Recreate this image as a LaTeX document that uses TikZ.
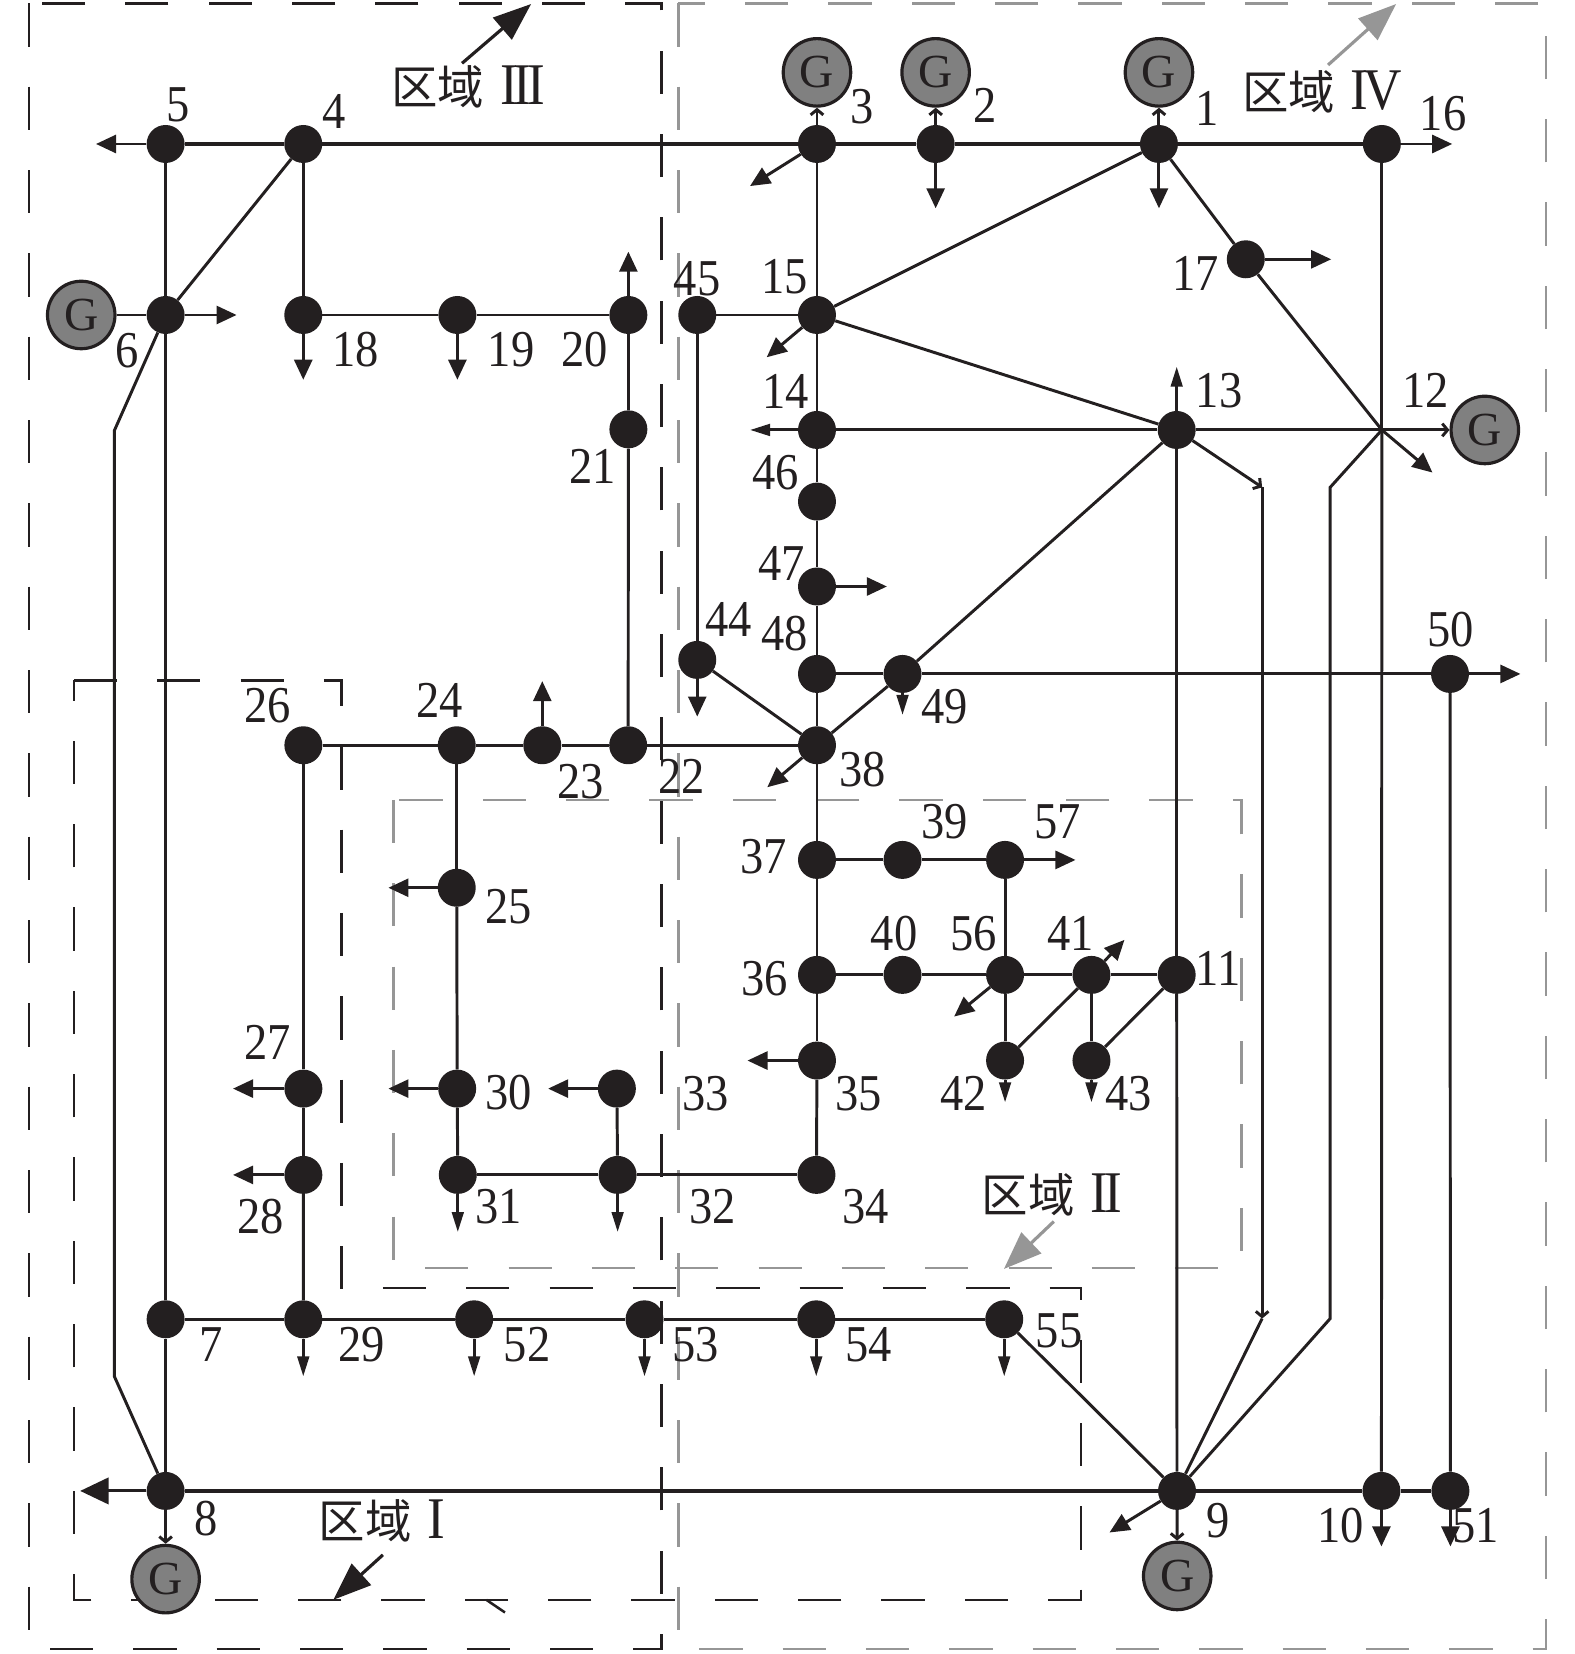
\documentclass[tikz,border=0pt]{standalone}
\usepackage{fontspec}
\setmainfont{Liberation Serif}
\newfontfamily\numfont[FakeStretch=0.9]{Liberation Serif}
\newfontfamily\cjk{Noto Sans CJK SC}
\usetikzlibrary{arrows.meta}
\definecolor{ink}{RGB}{35,31,32}
\definecolor{gfill}{RGB}{128,128,128}
\definecolor{rgray}{RGB}{150,150,150}
\newcommand{\romn}[1]{\hspace{15pt}{\numfont\fontsize{56}{56}\selectfont #1}}
\begin{document}
\begin{tikzpicture}[x=1pt,y=-1pt,
 bus/.style={circle,fill=ink,draw=none,minimum size=36pt,inner sep=0pt},
 gen/.style={circle,fill=gfill,draw=ink,line width=3pt,minimum size=64pt,inner sep=0pt,font=\fontsize{45}{45}\selectfont,text=ink},
 num/.style={font=\numfont\fontsize{49}{49}\selectfont,text=ink,inner sep=0pt},
 reg/.style={font=\cjk\fontsize{44}{44}\selectfont,text=ink,inner sep=0pt},
 ln/.style={draw=ink,line width=2.8pt},
 thk/.style={draw=ink,line width=3.5pt},
 load/.style={ln,-{Triangle[length=19pt,width=17pt]}},
 loadn/.style={ln,-{Triangle[length=19pt,width=11pt]}},
 loadb/.style={ln,-{Triangle[length=27pt,width=25pt]}},
 gar/.style={ln,-{Straight Barb[length=5pt,width=12pt]}},
 regar/.style={line width=3pt,-{Triangle[length=36pt,width=27pt]}},
 bdash/.style={draw=ink,line width=2.4pt,dash pattern=on 41pt off 38pt},
 gdash/.style={draw=rgray,line width=2.4pt,dash pattern=on 41pt off 38pt},
]
\useasboundingbox (0,0) rectangle (1493,1568);

% ---------- region boxes ----------
\draw[bdash] (27.5,3.2) rectangle (627,1563.3);
\draw[gdash] (643,3.2) rectangle (1465.5,1563.3);
\draw[bdash] (70,645) -- (323.5,645) -- (323.5,1221) -- (1025,1221) -- (1025,1516.6) -- (70,1516.6) -- cycle;
\draw[gdash] (372.8,758.3) rectangle (1177,1202);
\draw[draw=ink,line width=2.4pt] (461,1516.6) -- (478.7,1528.6);

% ---------- generators ----------
\node[gen] (g3) at (774.5,68.6) {G};
\node[gen] (g2) at (887,68.6) {G};
\node[gen] (g1) at (1098.7,68.6) {G};
\node[gen] (g6) at (77,298.6) {G};
\node[gen] (g12) at (1407.6,407.6) {G};
\node[gen] (g8) at (157,1497) {G};
\node[gen] (g9) at (1116,1494) {G};

% ---------- buses ----------
\node[bus] (b1) at (1098.7,136.5) {};
\node[bus] (b2) at (887,136.5) {};
\node[bus] (b3) at (774.5,136.5) {};
\node[bus] (b4) at (287.5,136.5) {};
\node[bus] (b5) at (157,136.5) {};
\node[bus] (b16) at (1310,136.5) {};
\node[bus] (b6) at (157,298.6) {};
\node[bus] (b18) at (287.5,298.6) {};
\node[bus] (b19) at (433.6,298.6) {};
\node[bus] (b20) at (595.7,298.6) {};
\node[bus] (b45) at (661,298.6) {};
\node[bus] (b15) at (774.5,298.6) {};
\node[bus] (b17) at (1181,245.8) {};
\node[bus] (b21) at (595.7,407) {};
\node[bus] (b14) at (774.5,407.6) {};
\node[bus] (b13) at (1115.5,407.6) {};
\coordinate (j12) at (1310,407.6);
\node[bus] (b46) at (774.5,475.5) {};
\node[bus] (b47) at (774.5,556) {};
\node[bus] (b44) at (661,625.6) {};
\node[bus] (b48) at (774.5,638.9) {};
\node[bus] (b49) at (855.6,638.9) {};
\node[bus] (b50) at (1374.6,638.9) {};
\node[bus] (b26) at (287.6,706.5) {};
\node[bus] (b24) at (433,706.5) {};
\node[bus] (b23) at (514.1,706.5) {};
\node[bus] (b22) at (595.5,706.5) {};
\node[bus] (b38) at (774.5,706.5) {};
\node[bus] (b37) at (774.5,815.2) {};
\node[bus] (b39) at (855.6,815.2) {};
\node[bus] (b57) at (952.8,815.2) {};
\node[bus] (b25) at (433,841.6) {};
\node[bus] (b36) at (774.5,924.2) {};
\node[bus] (b40) at (855.6,924.2) {};
\node[bus] (b56) at (952.8,924.2) {};
\node[bus] (b41) at (1034.7,924.2) {};
\node[bus] (b11) at (1115.5,924.2) {};
\node[bus] (b35) at (774.5,1005.4) {};
\node[bus] (b42) at (952.8,1005.4) {};
\node[bus] (b43) at (1034.7,1005.4) {};
\node[bus] (b27) at (287.6,1032) {};
\node[bus] (b30) at (433.4,1032) {};
\node[bus] (b33) at (584.8,1032) {};
\node[bus] (b28) at (287.6,1113.8) {};
\node[bus] (b31) at (434,1113.8) {};
\node[bus] (b32) at (585.5,1113.8) {};
\node[bus] (b34) at (774,1113.8) {};
\node[bus] (b7) at (157,1250.7) {};
\node[bus] (b29) at (287.5,1250.7) {};
\node[bus] (b52) at (449.5,1250.7) {};
\node[bus] (b53) at (611,1250.7) {};
\node[bus] (b54) at (773.8,1250.7) {};
\node[bus] (b55) at (952,1250.7) {};
\node[bus] (b8) at (157,1413.4) {};
\node[bus] (b9) at (1115.8,1413.4) {};
\node[bus] (b10) at (1309.6,1413.4) {};
\node[bus] (b51) at (1375,1413.4) {};

% ---------- bends ----------
\coordinate (c6a) at (108.5,408);
\coordinate (c6b) at (108.5,1305);
\coordinate (c12a) at (1261,462);
\coordinate (c12b) at (1261,1250);
\coordinate (c13a) at (1196.5,462);
\coordinate (c13b) at (1196.5,1250);

% ---------- lines ----------
\draw[thk] (b5) -- (b4);
\draw[thk] (b4) -- (b3);
\draw[thk] (b3) -- (b2);
\draw[thk] (b2) -- (b1);
\draw[thk] (b1) -- (b16);
\draw[ln] (b5) -- (b6);
\draw[ln] (b6) -- (b7);
\draw[ln] (b7) -- (b8);
\draw[ln] (b4) -- (b6);
\draw[ln] (b4) -- (b18);
\draw[ln] (g6) -- (b6);
\draw[ln] (b6) -- (c6a) -- (c6b) -- (b8);
\draw[ln] (b18) -- (b19);
\draw[ln] (b19) -- (b20);
\draw[ln] (b20) -- (b21);
\draw[ln] (b21) -- (b22);
\draw[ln] (b45) -- (b15);
\draw[ln] (b45) -- (b44);
\draw[ln] (b44) -- (b38);
\draw[ln] (b3) -- (b15);
\draw[ln] (b15) -- (b14);
\draw[ln] (b14) -- (b46);
\draw[ln] (b46) -- (b47);
\draw[ln] (b47) -- (b48);
\draw[ln] (b48) -- (b38);
\draw[ln] (b1) -- (b15);
\draw[ln] (b15) -- (b13);
\draw[ln] (b1) -- (b17);
\draw[ln] (b17) -- (j12);
\draw[ln] (b16) -- (j12);
\draw[ln] (j12) -- (b10);
\draw[ln] (b14) -- (b13);
\draw[ln] (b13) -- (j12);
\draw[ln] (j12) -- (c12a) -- (c12b) -- (b9);
\draw[ln] (b13) -- (b49);
\draw[ln] (b49) -- (b38);
\draw[ln] (b13) -- (b11);
\draw[ln] (b11) -- (b9);
\draw[gar] (b13) -- (c13a);
\draw[gar] (c13a) -- (c13b);
\draw[ln] (c13b) -- (b9);
\draw[ln] (b48) -- (b49);
\draw[ln] (b49) -- (b50);
\draw[ln] (b50) -- (b51);
\draw[ln] (b26) -- (b24);
\draw[ln] (b24) -- (b23);
\draw[ln] (b23) -- (b22);
\draw[ln] (b22) -- (b38);
\draw[ln] (b24) -- (b25);
\draw[ln] (b25) -- (b30);
\draw[ln] (b30) -- (b31);
\draw[ln] (b26) -- (b27);
\draw[ln] (b27) -- (b28);
\draw[ln] (b28) -- (b29);
\draw[ln] (b31) -- (b32);
\draw[ln] (b32) -- (b34);
\draw[ln] (b33) -- (b32);
\draw[ln] (b38) -- (b37);
\draw[ln] (b37) -- (b36);
\draw[ln] (b36) -- (b35);
\draw[ln] (b35) -- (b34);
\draw[ln] (b37) -- (b39);
\draw[ln] (b39) -- (b57);
\draw[ln] (b57) -- (b56);
\draw[ln] (b36) -- (b40);
\draw[ln] (b40) -- (b56);
\draw[ln] (b56) -- (b41);
\draw[ln] (b41) -- (b11);
\draw[ln] (b56) -- (b42);
\draw[ln] (b42) -- (b41);
\draw[ln] (b41) -- (b43);
\draw[ln] (b43) -- (b11);
\draw[ln] (b7) -- (b29);
\draw[ln] (b29) -- (b52);
\draw[ln] (b52) -- (b53);
\draw[ln] (b53) -- (b54);
\draw[ln] (b54) -- (b55);
\draw[ln] (b55) -- (b9);
\draw[thk] (b8) -- (b9);
\draw[thk] (b9) -- (b10);
\draw[thk] (b10) -- (b51);

% ---------- generator arrows ----------
\draw[gar] (b3) -- (g3);
\draw[gar] (b2) -- (g2);
\draw[gar] (b1) -- (g1);
\draw[gar] (j12) -- (g12);
\draw[gar] (b8) -- (g8);
\draw[gar] (b9) -- (g9);

% ---------- load arrow ends ----------
\coordinate (t5) at (91,136.5);
\coordinate (t16) at (1376.7,136.5);
\coordinate (t6) at (224.3,298.6);
\coordinate (t18) at (287.5,360);
\coordinate (t19) at (433.6,360);
\coordinate (t20) at (595.7,238.6);
\coordinate (t3) at (711,176.4);
\coordinate (t2) at (887,197.5);
\coordinate (t1) at (1098.7,197.5);
\coordinate (t17) at (1262,245.8);
\coordinate (t15) at (726.8,338.7);
\coordinate (t14) at (711,407.6);
\coordinate (t13) at (1115.5,347.6);
\coordinate (t12) at (1358,448);
\coordinate (t47) at (840.8,556);
\coordinate (t44) at (661,679.3);
\coordinate (t49) at (855.6,677.7);
\coordinate (t50) at (1441.4,638.9);
\coordinate (t23) at (514.1,645.7);
\coordinate (t38) at (727.4,746.3);
\coordinate (t25) at (368.2,841.6);
\coordinate (t57) at (1019.6,815.2);
\coordinate (t56) at (904.5,963.7);
\coordinate (t41) at (1066,891);
\coordinate (t35) at (708.6,1005.4);
\coordinate (t42) at (952.8,1045);
\coordinate (t43) at (1034.7,1045);
\coordinate (t27) at (220.9,1032);
\coordinate (t30) at (368.2,1032);
\coordinate (t33) at (519.6,1032);
\coordinate (t28) at (220.9,1113.8);
\coordinate (t31) at (434,1168);
\coordinate (t32) at (585.5,1168);
\coordinate (t29) at (287.5,1304.8);
\coordinate (t52) at (449.5,1304.8);
\coordinate (t53) at (611,1304.8);
\coordinate (t54) at (773.8,1304.8);
\coordinate (t55) at (952,1304.8);
\coordinate (t8) at (76,1413.4);
\coordinate (t9) at (1051.8,1452.8);
\coordinate (t10) at (1309.6,1466);
\coordinate (t51) at (1375,1466);

\draw[load] (b5) -- (t5);
\draw[load] (b16) -- (t16);
\draw[load] (b6) -- (t6);
\draw[load] (b18) -- (t18);
\draw[load] (b19) -- (t19);
\draw[load] (b20) -- (t20);
\draw[load] (b3) -- (t3);
\draw[load] (b2) -- (t2);
\draw[load] (b1) -- (t1);
\draw[load] (b17) -- (t17);
\draw[load] (b15) -- (t15);
\draw[loadn] (b14) -- (t14);
\draw[loadn] (b13) -- (t13);
\draw[load] (j12) -- (t12);
\draw[load] (b47) -- (t47);
\draw[load] (b44) -- (t44);
\draw[loadn] (b49) -- (t49);
\draw[load] (b50) -- (t50);
\draw[load] (b23) -- (t23);
\draw[load] (b38) -- (t38);
\draw[load] (b25) -- (t25);
\draw[load] (b57) -- (t57);
\draw[load] (b56) -- (t56);
\draw[load] (b41) -- (t41);
\draw[load] (b35) -- (t35);
\draw[loadn] (b42) -- (t42);
\draw[loadn] (b43) -- (t43);
\draw[load] (b27) -- (t27);
\draw[load] (b30) -- (t30);
\draw[load] (b33) -- (t33);
\draw[load] (b28) -- (t28);
\draw[loadn] (b31) -- (t31);
\draw[loadn] (b32) -- (t32);
\draw[loadn] (b29) -- (t29);
\draw[loadn] (b52) -- (t52);
\draw[loadn] (b53) -- (t53);
\draw[loadn] (b54) -- (t54);
\draw[loadn] (b55) -- (t55);
\draw[loadb] (b8) -- (t8);
\draw[load] (b9) -- (t9);
\draw[load] (b10) -- (t10);
\draw[load] (b51) -- (t51);

% ---------- bus labels ----------
\node[num] (l1) at (1144.6,102.7) {1};
\node[num] (l2) at (933.7,99.5) {2};
\node[num] (l3) at (817.5,101) {3};
\node[num] (l4) at (317,106) {4};
\node[num] (l5) at (169,99.5) {5};
\node[num] (l6) at (120.5,332) {6};
\node[num] (l7) at (200,1274.5) {7};
\node[num] (l8) at (195,1440) {8};
\node[num] (l9) at (1154.5,1442) {9};
\node[num] (l10) at (1271,1446) {10};
\node[num] (l11) at (1154.8,918) {11};
\node[num] (l12) at (1351.5,369.7) {12};
\node[num] (l13) at (1155.8,370) {13};
\node[num] (l14) at (744.7,371.3) {14};
\node[num] (l15) at (743.6,262.3) {15};
\node[num] (l16) at (1368,107.4) {16};
\node[num] (l17) at (1133.4,259) {17};
\node[num] (l18) at (337,331) {18};
\node[num] (l19) at (484.5,331) {19};
\node[num] (l20) at (554,331) {20};
\node[num] (l21) at (561.5,442.4) {21};
\node[num] (l22) at (646,736) {22};
\node[num] (l23) at (550.7,741) {23};
\node[num] (l24) at (416.8,663.9) {24};
\node[num] (l25) at (482.4,859.7) {25};
\node[num] (l26) at (253.9,669.3) {26};
\node[num] (l27) at (253.9,988.6) {27};
\node[num] (l28) at (247.4,1153.6) {28};
\node[num] (l29) at (342.6,1274.5) {29};
\node[num] (l30) at (482.4,1035.7) {30};
\node[num] (l31) at (473,1144) {31};
\node[num] (l32) at (675.7,1144) {32};
\node[num] (l33) at (668.7,1036.3) {33};
\node[num] (l34) at (820.4,1144) {34};
\node[num] (l35) at (813.9,1036.3) {35};
\node[num] (l36) at (725,927.3) {36};
\node[num] (l37) at (723.9,812) {37};
\node[num] (l38) at (817.5,729.9) {38};
\node[num] (l39) at (895.5,778.8) {39};
\node[num] (l40) at (847.6,884.7) {40};
\node[num] (l41) at (1015,884.7) {41};
\node[num] (l42) at (913.6,1036.3) {42};
\node[num] (l43) at (1069.6,1036.3) {43};
\node[num] (l44) at (690.6,587.7) {44};
\node[num] (l45) at (660.9,264) {45};
\node[num] (l46) at (735,448) {46};
\node[num] (l47) at (741,534) {47};
\node[num] (l48) at (743.5,600.3) {48};
\node[num] (l49) at (895.7,669.9) {49};
\node[num] (l50) at (1375,597) {50};
\node[num] (l51) at (1399,1446) {51};
\node[num] (l52) at (499.6,1274.5) {52};
\node[num] (l53) at (659.5,1274.5) {53};
\node[num] (l54) at (823.2,1274.5) {54};
\node[num] (l55) at (1004,1261.8) {55};
\node[num] (l56) at (922.7,884.7) {56};
\node[num] (l57) at (1002.5,778.8) {57};

% ---------- region labels ----------
\node[reg] (r3) at (444,82) {区域\romn{I\kern-3.8pt I\kern-3.8pt I}};
\node[reg] (r4) at (1253,87) {区域\romn{I\kern-5pt V}};
\node[reg] (r2) at (997,1133) {区域\romn{I\kern-3.8pt I}};
\node[reg] (r1) at (362,1442) {区域\romn{I}};
\coordinate (r3a) at (438,60);
\coordinate (r3b) at (503.5,3.8);
\coordinate (r4a) at (1259,61.6);
\coordinate (r4b) at (1323.5,3.8);
\coordinate (r2a) at (999,1158);
\coordinate (r2b) at (951.7,1203);
\coordinate (r1a) at (363,1474);
\coordinate (r1b) at (316,1516.6);
\draw[regar,draw=ink,fill=ink] (r3a) -- (r3b);
\draw[regar,draw=rgray,fill=rgray] (r4a) -- (r4b);
\draw[regar,draw=rgray,fill=rgray] (r2a) -- (r2b);
\draw[regar,draw=ink,fill=ink] (r1a) -- (r1b);
\end{tikzpicture}
\end{document}
